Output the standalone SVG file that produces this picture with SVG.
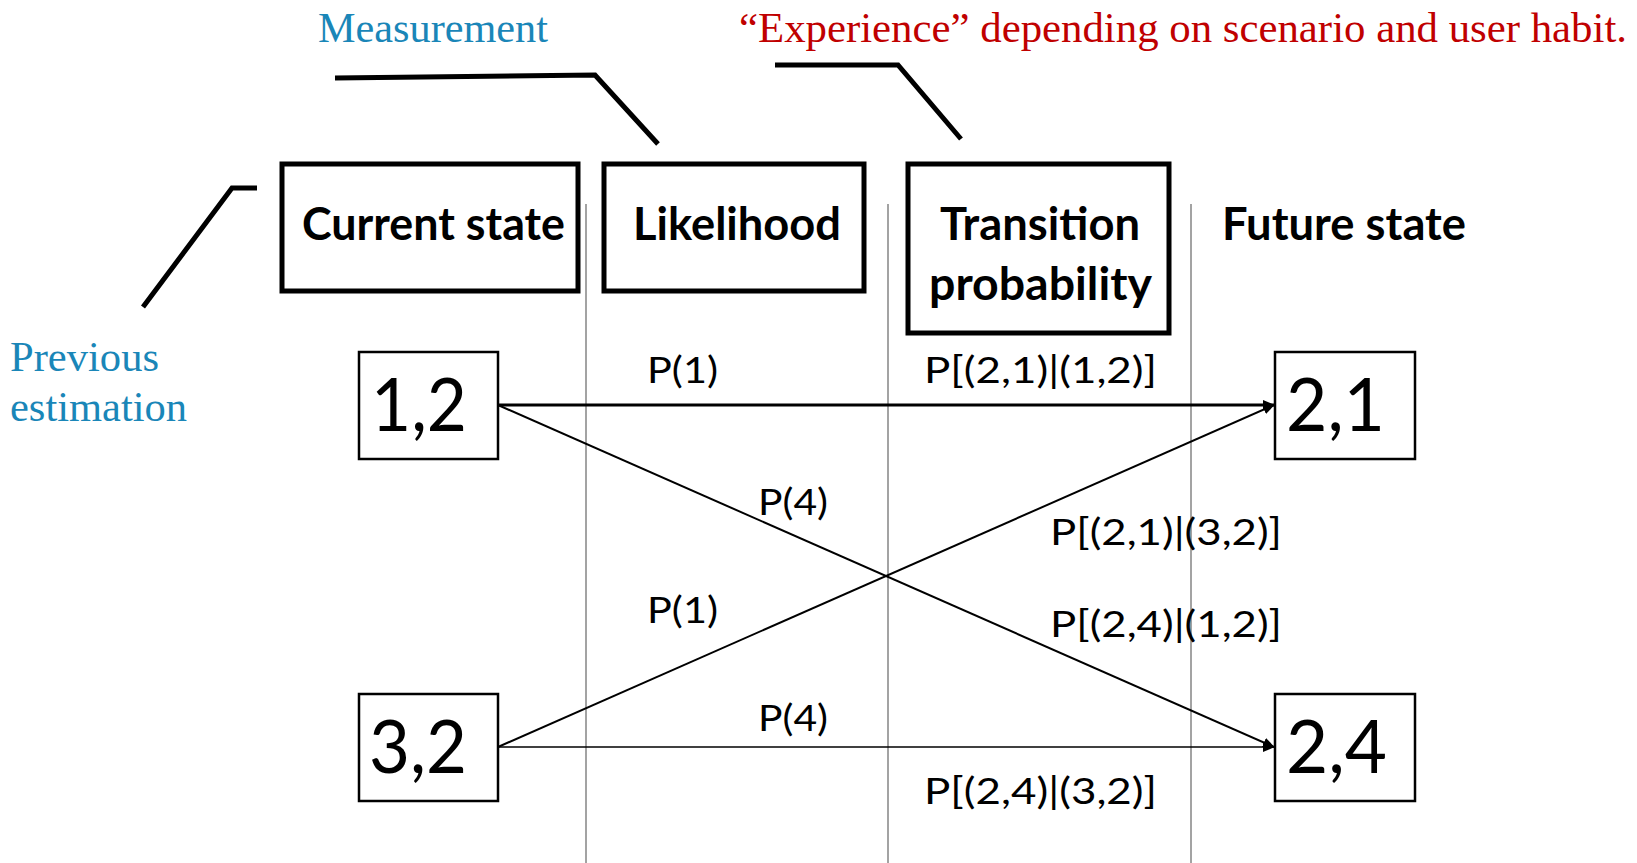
<svg xmlns="http://www.w3.org/2000/svg" width="1637" height="863" viewBox="0 0 1637 863">
<style>
.note{font-family:"Liberation Serif","Times New Roman",serif;font-size:42px}
.blue{fill:#1a86b8}
.red{fill:#c00000}
.callout{fill:none;stroke:#000;stroke-width:5}
.hbox{fill:#fff;stroke:#000;stroke-width:5}
.head{font-family:Lato,"Liberation Sans",sans-serif;font-weight:bold;font-size:46px;fill:#000}
.nbox{fill:#fff;stroke:#000;stroke-width:2.5}
.num{font-family:Lato,"Liberation Sans",sans-serif;font-size:74px;fill:#000}
.lbl{font-family:Lato,"Liberation Sans",sans-serif;font-size:37px;fill:#000}
.grid{stroke:#666;stroke-width:1.2}
.edge{stroke:#000;fill:none}
</style>
<defs>
<marker id="arr" markerWidth="12" markerHeight="10" refX="11" refY="5" orient="auto" markerUnits="userSpaceOnUse">
<path d="M0,0 L12,5 L0,10 Z" fill="#000"/>
</marker>
</defs>
<rect width="1637" height="863" fill="#fff"/>
<g id="grid-lines">
<line class="grid" x1="586" y1="204" x2="586" y2="863"/>
<line class="grid" x1="888" y1="204" x2="888" y2="863"/>
<line class="grid" x1="1191" y1="204" x2="1191" y2="863"/>
</g>
<g id="annotations">
<text class="note blue" x="318" y="42" textLength="230" lengthAdjust="spacingAndGlyphs">Measurement</text>
<text class="note red" x="739" y="42" textLength="888" lengthAdjust="spacingAndGlyphs">“Experience” depending on scenario and user habit.</text>
<text class="note blue" x="10" y="371" textLength="149" lengthAdjust="spacingAndGlyphs">Previous</text>
<text class="note blue" x="10" y="421" textLength="177" lengthAdjust="spacingAndGlyphs">estimation</text>
<polyline class="callout" points="335,78 595,75 658,144"/>
<polyline class="callout" points="775,65 898,65 961,139"/>
<polyline class="callout" points="257,188 232,188 143,307"/>
</g>
<g id="header-current">
<rect class="hbox" x="282" y="164" width="296" height="127"/>
<text class="head" x="302" y="240" textLength="263" lengthAdjust="spacingAndGlyphs">Current state</text>
</g>
<g id="header-likelihood">
<rect class="hbox" x="604" y="164" width="260" height="127"/>
<text class="head" x="633" y="240" textLength="208" lengthAdjust="spacingAndGlyphs">Likelihood</text>
</g>
<g id="header-transition">
<rect class="hbox" x="908" y="164" width="261" height="169"/>
<text class="head" x="940" y="240" textLength="200" lengthAdjust="spacingAndGlyphs">Transition</text>
<text class="head" x="929" y="300" textLength="223" lengthAdjust="spacingAndGlyphs">probability</text>
</g>
<g id="header-future">
<text class="head" x="1222" y="240" textLength="244" lengthAdjust="spacingAndGlyphs">Future state</text>
</g>
<g id="connectors">
<line class="edge" x1="498" y1="405" x2="1274" y2="405" stroke-width="3" marker-end="url(#arr)"/>
<line class="edge" x1="498" y1="405" x2="1274" y2="747" stroke-width="2" marker-end="url(#arr)"/>
<line class="edge" x1="498" y1="747" x2="1274" y2="405" stroke-width="2" marker-end="url(#arr)"/>
<line class="edge" x1="498" y1="747" x2="1274" y2="747" stroke-width="1.6" marker-end="url(#arr)"/>
<text class="lbl" x="647" y="383" textLength="71" lengthAdjust="spacingAndGlyphs">P(1)</text>
<text class="lbl" x="924" y="383" textLength="233" lengthAdjust="spacingAndGlyphs">P[(2,1)|(1,2)]</text>
<text class="lbl" x="758" y="515" textLength="70" lengthAdjust="spacingAndGlyphs">P(4)</text>
<text class="lbl" x="1050" y="545" textLength="232" lengthAdjust="spacingAndGlyphs">P[(2,1)|(3,2)]</text>
<text class="lbl" x="647" y="623" textLength="71" lengthAdjust="spacingAndGlyphs">P(1)</text>
<text class="lbl" x="1050" y="637" textLength="232" lengthAdjust="spacingAndGlyphs">P[(2,4)|(1,2)]</text>
<text class="lbl" x="758" y="731" textLength="70" lengthAdjust="spacingAndGlyphs">P(4)</text>
<text class="lbl" x="924" y="804" textLength="233" lengthAdjust="spacingAndGlyphs">P[(2,4)|(3,2)]</text>
</g>
<g id="node-1-2">
<rect class="nbox" x="359" y="352" width="139" height="107"/>
<text class="num" x="371" y="431" textLength="96" lengthAdjust="spacingAndGlyphs">1,2</text>
</g>
<g id="node-3-2">
<rect class="nbox" x="359" y="694" width="139" height="107"/>
<text class="num" x="369" y="773" textLength="98" lengthAdjust="spacingAndGlyphs">3,2</text>
</g>
<g id="node-2-1">
<rect class="nbox" x="1275" y="352" width="140" height="107"/>
<text class="num" x="1286" y="431" textLength="99" lengthAdjust="spacingAndGlyphs">2,1</text>
</g>
<g id="node-2-4">
<rect class="nbox" x="1275" y="694" width="140" height="107"/>
<text class="num" x="1286" y="773" textLength="101" lengthAdjust="spacingAndGlyphs">2,4</text>
</g>
</svg>
